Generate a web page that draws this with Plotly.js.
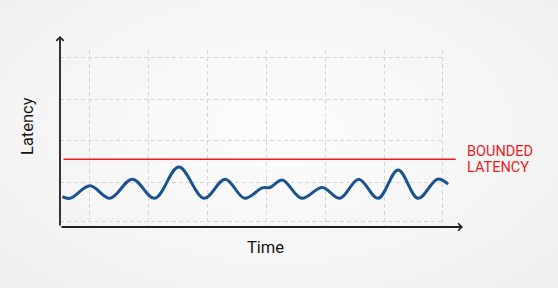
<!DOCTYPE html>
<html>
<head>
<meta charset="utf-8">
<script src="https://cdn.plot.ly/plotly-3.0.1.min.js"></script>
<style>
  html, body { margin: 0; padding: 0; }
  body { width: 558px; height: 288px; background: radial-gradient(ellipse at 50% 45%, #fcfcfc 0%, #f6f6f6 55%, #eeeeee 100%); }
  #chart { width: 558px; height: 288px; }
</style>
</head>
<body>
<div id="chart"></div>
<script>
// Latency samples (arbitrary time / latency units)
const timeValues    = [0.53, 0.66, 1.00, 1.34, 1.72, 2.10, 2.51, 2.94, 3.30, 3.63, 3.93, 4.06, 4.27, 4.60, 4.95, 5.25, 5.57, 5.90, 6.24, 6.58, 6.91, 7.09];
const latencyValues = [0.73, 0.69, 0.99, 0.69, 1.15, 0.69, 1.44, 0.69, 1.15, 0.69, 0.94, 0.95, 1.13, 0.69, 0.95, 0.69, 1.15, 0.69, 1.37, 0.69, 1.15, 1.03];

// Bounded latency level and its extent
const boundTime  = [0.55, 7.22];
const boundLevel = 1.63;
const boundLabel = ['BOUNDED', 'LATENCY'];

// Grid positions
const timeGrid    = [1, 2, 3, 4, 5, 6, 7];
const latencyGrid = [0.13, 1.07, 2.07, 3.07, 4.07];

const xTitle = 'Time';
const yTitle = 'Latency';

const axisColor = '#1f1f1f';
const font = 'Roboto, "Liberation Sans", Arial, sans-serif';
const yRange = [0, 4.255];

const traces = [
  { x: [], y: [], xaxis: 'x', yaxis: 'y', type: 'scatter', mode: 'lines', hoverinfo: 'skip', showlegend: false },
  {
    x: boundTime, y: [boundLevel, boundLevel],
    xaxis: 'x2', yaxis: 'y2', type: 'scatter', mode: 'lines',
    line: { color: '#ec1c1c', width: 1.6 }, hoverinfo: 'skip', showlegend: false
  },
  {
    x: timeValues, y: latencyValues,
    xaxis: 'x2', yaxis: 'y2', type: 'scatter', mode: 'lines',
    line: { color: '#1a548e', width: 3, shape: 'spline', smoothing: 1 },
    hoverinfo: 'skip', showlegend: false
  }
];

const hidden = { showgrid: false, showticklabels: false, ticks: '', zeroline: false, showline: false, fixedrange: true };

const layout = {
  width: 558, height: 288,
  margin: { l: 60, r: 95, t: 50, b: 61 },
  paper_bgcolor: 'rgba(0,0,0,0)',
  plot_bgcolor: 'rgba(0,0,0,0)',
  showlegend: false,
  xaxis: {
    domain: [0, 384 / 403], range: [0.49, 7.02], anchor: 'y',
    tickmode: 'array', tickvals: timeGrid, showticklabels: false, ticks: '',
    showgrid: true, gridcolor: '#d6d6d6', gridwidth: 1, griddash: '4px,3px',
    zeroline: false, showline: false, fixedrange: true
  },
  yaxis: {
    domain: [0, 1], range: yRange, anchor: 'x',
    tickmode: 'array', tickvals: latencyGrid, showticklabels: false, ticks: '',
    showgrid: true, gridcolor: '#d6d6d6', gridwidth: 1, griddash: '4px,3px',
    zeroline: false, showline: false, fixedrange: true
  },
  xaxis2: Object.assign({ domain: [0, 1], range: [0.49, 7.344], anchor: 'y2' }, hidden),
  yaxis2: Object.assign({ domain: [0, 1], range: yRange, anchor: 'x2' }, hidden),
  annotations: [
    // x axis with arrow
    { xref: 'paper', yref: 'paper', x: 1, y: 0, ax: -403, ay: 0, text: '', showarrow: true,
      arrowhead: 4, arrowsize: 0.8, arrowwidth: 1.8, arrowcolor: axisColor, standoff: 0 },
    // y axis with arrow
    { xref: 'paper', yref: 'paper', x: 0, y: 191 / 177, ax: 0, ay: 191, text: '', showarrow: true,
      arrowhead: 4, arrowsize: 0.8, arrowwidth: 1.8, arrowcolor: axisColor, standoff: 0 },
    { xref: 'paper', yref: 'paper', x: 205 / 403, y: -20 / 177, text: xTitle, showarrow: false,
      xanchor: 'center', yanchor: 'middle', font: { family: font, size: 16.5, color: '#151515' } },
    { xref: 'paper', yref: 'paper', x: -33 / 403, y: 101 / 177, text: yTitle, showarrow: false, textangle: -90,
      xanchor: 'center', yanchor: 'middle', font: { family: font, size: 16.5, color: '#151515' } },
    { xref: 'paper', yref: 'paper', x: 405 / 403, y: 76 / 177, text: boundLabel[0], showarrow: false,
      xanchor: 'left', yanchor: 'middle', font: { family: font, size: 14.5, color: '#ec1c1c' } },
    { xref: 'paper', yref: 'paper', x: 405 / 403, y: 59.5 / 177, text: boundLabel[1], showarrow: false,
      xanchor: 'left', yanchor: 'middle', font: { family: font, size: 14.5, color: '#ec1c1c' } }
  ]
};

Plotly.newPlot('chart', traces, layout, { displayModeBar: false, staticPlot: true });
</script>
</body>
</html>
